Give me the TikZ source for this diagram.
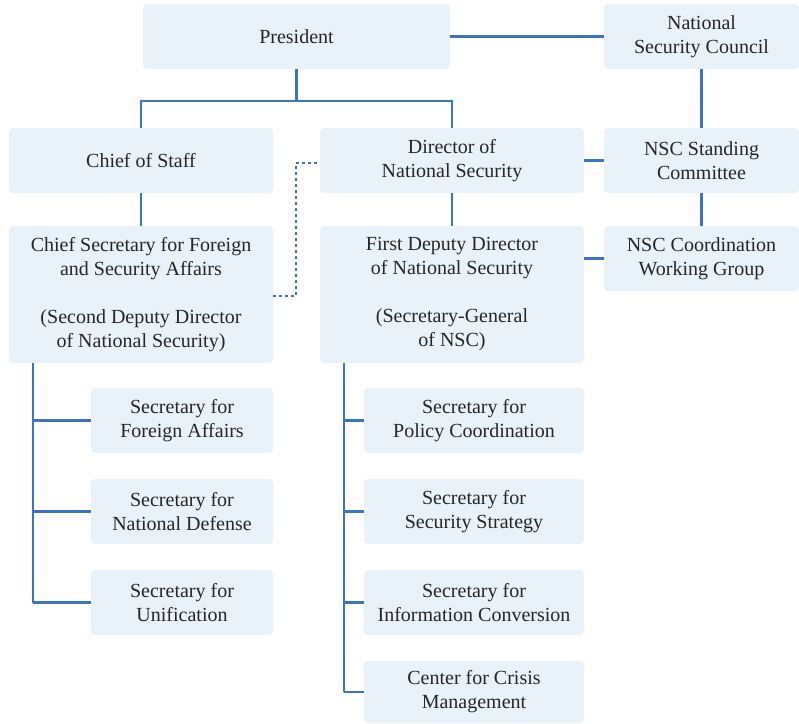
\documentclass[tikz,border=0pt]{standalone}
\usepackage{fontspec}
\setmainfont{Liberation Serif}
\definecolor{boxfill}{HTML}{E9F2F9}
\definecolor{linec}{HTML}{3A74C2}
\definecolor{txt}{HTML}{262626}
\begin{document}
\begin{tikzpicture}[x=1pt,y=-1pt,
  box/.style={fill=boxfill,draw=none,rounded corners=4pt,text=txt,align=center,
    font=\fontsize{20}{24}\selectfont,inner sep=0pt},
  conn/.style={draw=linec,line width=2.2pt},
  dotc/.style={draw=linec,line width=2.4pt,dash pattern=on 3pt off 3pt}]
\useasboundingbox (0,0) rectangle (799,723);
\newcommand{\bx}[6]{\node[box,minimum width=#4-#2,minimum height=#5-#3] (#1) at ({(#2+#4)/2},{(#3+#5)/2}) {#6};}
\bx{pres}{143}{4}{450}{69}{President}
\bx{nsc}{604}{4}{799}{69}{National\\Security Council}
\bx{cos}{9}{128}{273}{193}{Chief of Staff}
\bx{dns}{320}{128}{584}{193}{Director of\\National Security}
\bx{nscsc}{604}{128}{799}{193}{NSC Standing\\Committee}
\bx{csec}{9}{226}{273}{363}{Chief Secretary for Foreign\\and Security Affairs\\[24pt](Second Deputy Director\\of National Security)}
\bx{fdd}{320}{226}{584}{363}{First Deputy Director\\of National Security\\[24pt](Secretary-General\\of NSC)}
\bx{nsccwg}{604}{226}{799}{291}{NSC Coordination\\Working Group}
\bx{sfa}{91}{388}{273}{453}{Secretary for\\Foreign Affairs}
\bx{snd}{91}{479}{273}{544}{Secretary for\\National Defense}
\bx{su}{91}{570}{273}{635}{Secretary for\\Unification}
\bx{spc}{364}{388}{584}{453}{Secretary for\\Policy Coordination}
\bx{sss}{364}{479}{584}{544}{Secretary for\\Security Strategy}
\bx{sic}{364}{570}{584}{635}{Secretary for\\Information Conversion}
\bx{ccm}{364}{661}{584}{723}{Center for Crisis\\Management}
% connectors
\draw[conn] (pres.east) -- (nsc.west |- pres.east);
\coordinate (pj) at (296,101);
\draw[conn] (pres.south) -- (pres.south |- pj);
\draw[conn] (cos.north -| 141,0) -- (141,101) -- (452,101) -- (dns.north -| 452,0);
\draw[conn] (nsc.south) -- (nscsc.north);
\draw[conn] (nscsc.south) -- (nsccwg.north);
\draw[conn] (dns.east) -- (nscsc.west);
\draw[conn] (nsccwg.west -| fdd.east) -- (nsccwg.west);
\draw[conn] (cos.south -| 141,0) -- (csec.north -| 141,0);
\draw[conn] (dns.south -| 452,0) -- (fdd.north -| 452,0);
\draw[dotc] (csec.east |- 0,296) -- (296,296) -- (296,163) -- (dns.west |- 0,163);
% left tree
\draw[conn] (csec.south -| 33,0) -- (su.west -| 33,0);
\draw[conn] (sfa.west -| 33,0) -- (sfa.west);
\draw[conn] (snd.west -| 33,0) -- (snd.west);
\draw[conn] (su.west -| 33,0) -- (su.west);
% right tree
\draw[conn] (fdd.south -| 344,0) -- (ccm.west -| 344,0);
\draw[conn] (spc.west -| 344,0) -- (spc.west);
\draw[conn] (sss.west -| 344,0) -- (sss.west);
\draw[conn] (sic.west -| 344,0) -- (sic.west);
\draw[conn] (ccm.west -| 344,0) -- (ccm.west);
\end{tikzpicture}
\end{document}
